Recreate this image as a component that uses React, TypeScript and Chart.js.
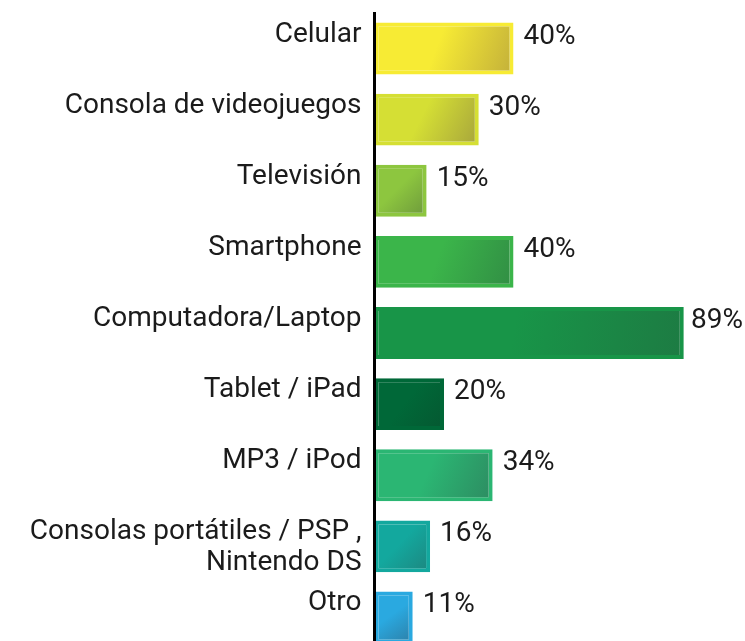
import React, { useEffect, useRef } from "react";
import { Chart, registerables } from "chart.js";

Chart.register(...registerables);

const categories: (string | string[])[] = [
  "Celular",
  "Consola de videojuegos",
  "Televisión",
  "Smartphone",
  "Computadora/Laptop",
  "Tablet / iPad",
  "MP3 / iPod",
  ["Consolas portátiles / PSP ,", "Nintendo DS"],
  "Otro",
];

const percentages = [40, 30, 15, 40, 89, 20, 34, 16, 11];

const lightColors = [
  "#F7EB34",
  "#D5DF34",
  "#8DC63F",
  "#3BB54A",
  "#189548",
  "#006838",
  "#2BB673",
  "#13A89E",
  "#2AA9E0",
];

const darkColors = [
  "#C2AF3A",
  "#A6A43C",
  "#6C983B",
  "#318D44",
  "#1D7B43",
  "#055831",
  "#2D8B61",
  "#1D857E",
  "#2D7DA5",
];

const FONT = "Roboto";

export default function App() {
  const ref = useRef<HTMLCanvasElement | null>(null);

  useEffect(() => {
    const canvas = ref.current;
    if (!canvas) return;

    const valueLabels = {
      id: "valueLabels",
      afterDatasetsDraw(chart: any) {
        const ctx = chart.ctx;
        const meta = chart.getDatasetMeta(0);
        ctx.save();
        ctx.font = `28px ${FONT}`;
        ctx.fillStyle = "#1b1b1b";
        ctx.textAlign = "left";
        ctx.textBaseline = "middle";
        meta.data.forEach((bar: any, i: number) => {
          const text = `${percentages[i]}%`;
          const w = ctx.measureText(text).width;
          const x = Math.min(bar.x + 10, chart.width - w - 2);
          ctx.fillText(text, x, bar.y - 12);
        });
        ctx.restore();
      },
    };

    const chart = new Chart(canvas, {
      type: "bar",
      data: {
        labels: categories as any,
        datasets: [
          {
            data: percentages,
            backgroundColor: (c: any) => {
              const chart = c.chart;
              const i = c.dataIndex;
              if (i === undefined || i === null) return lightColors[0];
              const xs = chart.scales && chart.scales.x;
              const ys = chart.scales && chart.scales.y;
              if (!xs || !ys) return lightColors[i];
              const x0 = xs.getPixelForValue(0);
              const x1 = xs.getPixelForValue(percentages[i]);
              const yc = ys.getPixelForValue(i);
              if (![x0, x1, yc].every((v) => Number.isFinite(v))) return lightColors[i];
              const h = 26;
              const g = chart.ctx.createLinearGradient(x0, yc - h, x1, yc + h);
              g.addColorStop(0, lightColors[i]);
              g.addColorStop(0.45, lightColors[i]);
              g.addColorStop(1, darkColors[i]);
              return g;
            },
            borderColor: lightColors,
            borderWidth: 4,
            borderSkipped: false,
            barPercentage: 0.73,
            categoryPercentage: 1,
          },
        ],
      },
      options: {
        indexAxis: "y",
        animation: false,
        responsive: false,
        maintainAspectRatio: false,
        devicePixelRatio: 1,
        layout: { padding: { top: 13, bottom: 7, left: 0, right: 23 } },
        plugins: {
          legend: { display: false },
          tooltip: { enabled: false },
          title: { display: false },
        },
        scales: {
          x: {
            type: "linear",
            min: 0,
            max: 100,
            display: false,
          },
          y: {
            type: "category",
            grid: { display: false, drawTicks: false },
            border: { display: true, color: "#000", width: 3, z: 1 },
            afterFit: (scale: any) => {
              scale.width = 374.5;
              scale.paddingTop = 0;
              scale.paddingBottom = 0;
            },
            ticks: {
              autoSkip: false,
              padding: 13,
              labelOffset: -14,
              color: "#1b1b1b",
              font: { family: FONT, size: 28, lineHeight: 1.1 },
              callback: function (this: any, _v: any, idx: number) {
                const lab = categories[idx];
                if (Array.isArray(lab)) return ["", ...lab];
                return lab;
              },
            },
          },
        },
      },
      plugins: [valueLabels],
    });

    return () => chart.destroy();
  }, []);

  return (
    <div style={{ position: "fixed", left: 0, top: 0, width: 745, height: 660, background: "#fff" }}>
      <canvas ref={ref} width={745} height={660} style={{ display: "block" }} />
    </div>
  );
}
